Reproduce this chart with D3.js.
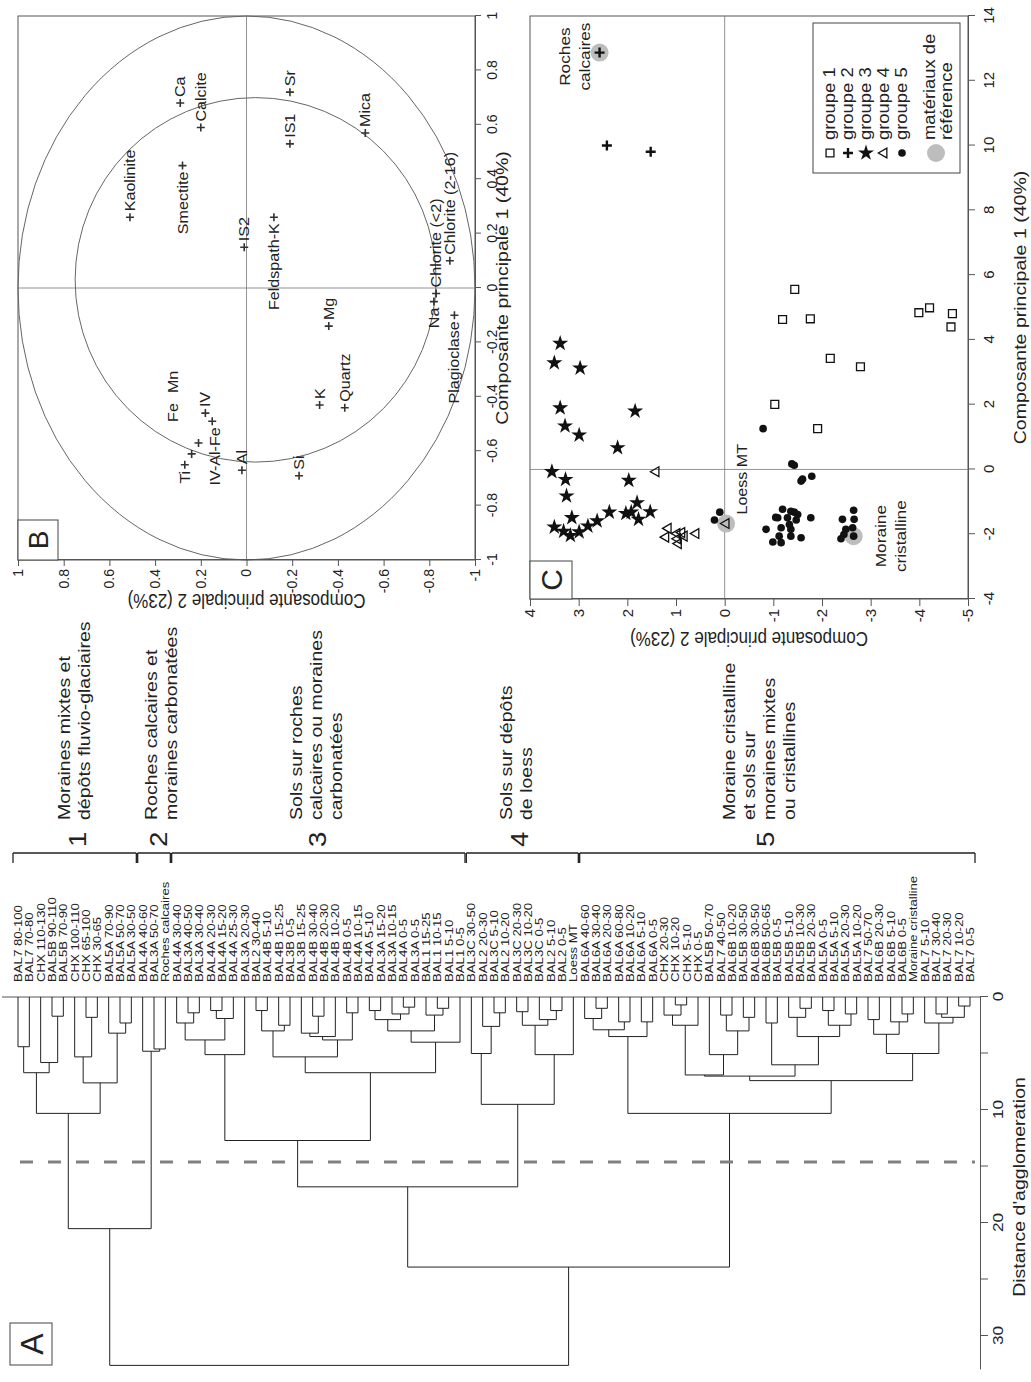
<!DOCTYPE html>
<html>
<head>
<meta charset="utf-8">
<script src="https://cdn.jsdelivr.net/npm/d3@7"></script>
<style>
  body { margin: 0; background: #fff; }
  svg { display: block; }
  text { font-family: "Liberation Sans", Arial, sans-serif; fill: #222; }
</style>
</head>
<body>
<svg id="fig" width="1031" height="1382"></svg>
<script>
// ---------- data : dendrogram (panel A) ----------
const leafLabels = [
  "BAL7 80-100","BAL7 70-80","CHX 110-130","BAL5B 90-110","BAL5B 70-90","CHX 100-110","CHX 65-100","CHX 30-65","BAL5A 70-90","BAL5A 50-70","BAL5A 30-50",
  "BAL4A 40-60","BAL3A 50-70","Roches calcaires",
  "BAL4A 30-40","BAL3A 40-50","BAL3A 30-40","BAL4A 20-30","BAL4A 15-20","BAL4A 25-30","BAL3A 20-30","BAL2 30-40","BAL4B 5-10","BAL4B 15-25","BAL3B 0-5","BAL3B 15-25","BAL4B 30-40","BAL4B 20-30","BAL4B 10-20","BAL4B 0-5","BAL4A 10-15","BAL4A 5-10","BAL3A 15-20","BAL3A 10-15","BAL4A 0-5","BAL3A 0-5","BAL1 15-25","BAL1 10-15","BAL1 5-10","BAL1 0-5",
  "BAL3C 30-50","BAL2 20-30","BAL3C 5-10","BAL2 10-20","BAL3C 20-30","BAL3C 10-20","BAL3C 0-5","BAL2 5-10","BAL2 0-5","Loess MT",
  "BAL6A 40-60","BAL6A 30-40","BAL6A 20-30","BAL6A 60-80","BAL6A 10-20","BAL6A 5-10","BAL6A 0-5","CHX 20-30","CHX 10-20","CHX 5-10","CHX 0-5","BAL5B 50-70","BAL7 40-50","BAL6B 10-20","BAL5B 30-50","BAL6B 30-50","BAL6B 50-65","BAL5B 0-5","BAL5B 5-10","BAL5B 10-30","BAL5B 20-30","BAL5A 0-5","BAL5A 5-10","BAL5A 20-30","BAL5A 10-20","BAL7 50-70","BAL6B 20-30","BAL6B 5-10","BAL6B 0-5","Moraine cristalline","BAL7 5-10","BAL7 30-40","BAL7 20-30","BAL7 10-20","BAL7 0-5"
];
const groupSizes = [11, 3, 26, 10, 35];
const groupNumbers = ["1", "2", "3", "4", "5"];
const groupText = [
  ["Moraines mixtes et", "dépôts fluvio-glaciaires"],
  ["Roches calcaires et", "moraines carbonatées"],
  ["Sols sur roches", "calcaires ou moraines", "carbonatées"],
  ["Sols sur dépôts", "de loess"],
  ["Moraine cristalline", "et sols sur", "moraines mixtes", "ou cristallines"]
];

// merges written as [distance, left, right]; a leaf is its index in leafLabels
const tree1 = [10.3, [6.7, [4.4, 0, 1], [5.8, 2, [1.7, 3, 4]]], [7.6, [5.3, 5, [1.8, 6, 7]], [3.2, 8, [2.3, 9, 10]]]];
const tree2 = [4.8, 11, [4.6, 12, 13]];
const tree3 = [12.7,
  [5.1, [3.8, [2.3, 14, [1.4, 15, 16]], [1.9, [1.2, 17, 18], 19]], 20],
  [6.7,
    [5.3, [3.0, [1.2, 21, 22], [2.5, 23, 24]], [3.8, [3.5, [3.2, 25, [1.7, 26, 27]], 28], [1.4, 29, 30]]],
    [4.0, [3.0, [2.0, [1.2, 31, 32], [1.5, 33, [0.9, 34, 35]]], [1.6, 36, [1.0, 37, 38]]], 39]]];
const tree4 = [9.5, [5.0, 40, [2.6, 41, [1.4, 42, 43]]], [5.1, [2.5, [1.3, 44, 45], [2.0, 46, [1.2, 47, 48]]], 49]];
const tree5 = [10.3,
  [3.5, [2.9, [1.9, 50, [1.0, 51, 52]], [2.2, 53, 54]], [2.2, 55, 56]],
  [7.4,
    [7.0,
      [6.9, [2.5, [1.6, 57, [0.7, 58, 59]], 60], [5.1, 61, [3.0, [1.6, 62, 63], [1.8, 64, 65]]]],
      [6.0, [2.3, 66, 67], [3.5, [1.8, 68, [1.0, 69, 70]], [2.5, [1.2, 71, 72], [1.5, 73, 74]]]]],
    [5.0, [3.3, [2.0, 75, 76], [2.2, 77, [1.5, 78, 79]]], [2.3, 80, [1.8, [1.5, 81, 82], [0.8, 83, 84]]]]]];
const dendroTree = [32.6, [20.5, tree1, tree2], [23.9, [16.8, tree3, tree4], tree5]];
const distTicks = [0, 5, 10, 15, 20, 25, 30];
const cutDistance = 14.6;

// ---------- data : loadings circle (panel B) ----------
const varNames = ["Ca","Calcite","Sr","IS1","Mica","Kaolinite","Smectite","IS2","Feldspath-K","Chlorite (<2)","Chlorite (2-16)","Na","Plagioclase","Mg","Quartz","K","Si","Al","IV-Al-Fe","IV","Fe","Mn","Ti"];
const varPC1 = [0.68, 0.59, 0.72, 0.53, 0.57, 0.26, 0.45, 0.15, 0.26, -0.02, 0.10, -0.05, -0.10, -0.14, -0.44, -0.43, -0.69, -0.67, -0.49, -0.46, -0.61, -0.57, -0.65];
const varPC2 = [0.29, 0.20, -0.19, -0.19, -0.52, 0.51, 0.28, 0.01, -0.12, -0.83, -0.89, -0.82, -0.91, -0.36, -0.43, -0.32, -0.23, 0.02, 0.15, 0.18, 0.24, 0.21, 0.27];
const bTicks = [-1, -0.8, -0.6, -0.4, -0.2, 0, 0.2, 0.4, 0.6, 0.8, 1];

// ---------- data : samples scores (panel C) ----------
const grp1PC1 = [5.56, 4.63, 4.65, 3.43, 3.17, 2.01, 1.26, 4.84, 4.99, 4.81, 4.40];
const grp1PC2 = [-1.44, -1.19, -1.76, -2.17, -2.79, -1.03, -1.91, -3.99, -4.21, -4.68, -4.65];
const grp2PC1 = [10.0, 9.81];
const grp2PC2 = [2.42, 1.52];
const grp3PC1 = [3.89, 3.29, 3.13, 1.90, 1.34, 1.06, 1.80, 0.67, -0.07, -0.31, -0.34, -0.82, -1.03, -1.32, -1.36, -1.32, -1.31, -1.54, -1.49, -1.59, -1.75, -1.93, -2.04, -1.91, -1.78];
const grp3PC2 = [3.38, 3.50, 2.97, 3.38, 3.28, 2.99, 1.84, 2.20, 3.55, 3.27, 1.97, 3.25, 1.80, 2.37, 2.03, 1.92, 1.53, 1.77, 3.14, 2.62, 2.81, 2.99, 3.17, 3.31, 3.50];
const grp4PC1 = [-0.07, -1.82, -2.09, -1.98, -1.95, -2.14, -2.06, -2.29, -1.98];
const grp4PC2 = [1.41, 1.16, 1.21, 0.98, 0.88, 0.97, 0.83, 0.95, 0.59];
const grp5PC1 = [1.26, -1.32, -1.56, 0.17, 0.13, -0.36, -0.30, -0.21, -1.85, -2.24, -1.48, -1.23, -1.29, -1.32, -1.49, -1.49, -1.56, -1.80, -1.85, -2.26, -2.06, -2.11, -1.49, -1.39, -1.70, -2.06, -1.26, -1.54, -1.54, -1.85, -2.01, -2.14, -1.80];
const grp5PC2 = [-0.79, 0.10, 0.21, -1.38, -1.43, -1.57, -1.60, -1.79, -0.85, -0.99, -1.05, -1.19, -1.36, -1.43, -1.09, -1.29, -1.47, -1.16, -1.36, -1.16, -1.36, -1.57, -1.77, -1.50, -1.33, -1.12, -2.65, -2.66, -2.42, -2.49, -2.45, -2.39, -2.63];
const refNames = [["Roches", "calcaires"], ["Loess MT"], ["Moraine", "cristalline"]];
const refGroup = [2, 4, 5];
const refPC1 = [12.87, -1.67, -2.06];
const refPC2 = [2.57, -0.03, -2.65];
const cTicksPC1 = [-4, -2, 0, 2, 4, 6, 8, 10, 12, 14];
const cTicksPC2 = [-5, -4, -3, -2, -1, 0, 1, 2, 3, 4];
const legendLabels = [["groupe 1"], ["groupe 2"], ["groupe 3"], ["groupe 4"], ["groupe 5"], ["matériaux de", "référence"]];

// ---------- drawing ----------
const W = 1031, H = 1382;
const SX = 1.15;         // the print is stretched along the reading direction
const ink = "#222";

const svg = d3.select("#fig");
svg.append("rect").attr("width", W).attr("height", H).attr("fill", "#fff");
// the whole figure is laid out upright, then turned a quarter left
const fig = svg.append("g").attr("transform", `translate(0,${H}) rotate(-90)`);

function addText(p, u, v, str, size, anchor, rot, sx) {
  return p.append("text")
    .attr("transform", `translate(${u},${v}) scale(${sx || SX},1)` + (rot ? ` rotate(${rot})` : ""))
    .attr("font-size", size)
    .attr("text-anchor", anchor || "start")
    .text(str);
}
function seg(p, u1, v1, u2, v2, color, w) {
  return p.append("line").attr("x1", u1).attr("y1", v1).attr("x2", u2).attr("y2", v2)
    .attr("stroke", color || ink).attr("stroke-width", w || 1);
}
function letterBox(p, u, v, w, h, letter, size) {
  p.append("rect").attr("x", u).attr("y", v).attr("width", w).attr("height", h)
    .attr("fill", "#fff").attr("stroke", "#444").attr("stroke-width", 1);
  addText(p, u + w / 2, v + h / 2 + size * 0.36, letter, size, "middle", 0, 1);
}
function styleAxis(ax, size) {
  ax.select(".domain").attr("stroke", "#555");
  ax.selectAll(".tick line").attr("stroke", "#555");
  ax.selectAll(".tick text").attr("font-size", size).attr("fill", ink)
    .attr("font-family", '"Liberation Sans", Arial, sans-serif');
}

// ===== Panel A : dendrogram =====
const gA = fig.append("g");
const leafV = d3.scalePoint().domain(d3.range(leafLabels.length)).range([18, 970]);
const distU = d3.scaleLinear().domain([0, 33]).range([385, 385 - 33 * 11.3]);

const root = d3.hierarchy(dendroTree, d => Array.isArray(d) ? d.slice(1) : null);
root.eachAfter(n => {
  if (n.children) {
    n.h = n.data[0];
    n.v = (n.children[0].v + n.children[1].v) / 2;
  } else {
    n.h = 0;
    n.v = leafV(n.data);
  }
});

// zero line
seg(gA, distU(0), 2, distU(0), 980, "#555", 1);

root.each(n => {
  if (!n.children) return;
  const u = distU(n.h);
  seg(gA, u, n.children[0].v, u, n.children[1].v);
  n.children.forEach(c => seg(gA, distU(c.h), c.v, u, c.v));
});

// cut line
gA.append("line")
  .attr("x1", distU(cutDistance)).attr("x2", distU(cutDistance))
  .attr("y1", 20).attr("y2", 975)
  .attr("stroke", "#808080").attr("stroke-width", 3).attr("stroke-dasharray", "13,15");

// leaf labels
leafLabels.forEach((lab, i) => addText(gA, 400, leafV(i) + 4, lab, 11, "start", 0, 1.2));

// distance axis
const distAxis = gA.append("g").attr("transform", "translate(0,980)")
  .call(d3.axisBottom(distU).tickValues(distTicks).tickSize(8).tickSizeOuter(0)
    .tickFormat(d => d % 10 === 0 ? String(d) : ""));
styleAxis(distAxis, 15);
distAxis.selectAll(".tick text").attr("y", 12).attr("transform", `scale(${SX},1)`);
addText(gA, 195, 1025, "Distance d'agglomeration", 17, "middle");

letterBox(gA, 17, 10, 42, 42, "A", 32);

// group brackets and titles
const groupLineV = [70, 157, 302, 512, 735];   // baseline of the first title line
const groupNumV = [86, 167, 326, 528, 774];
let start = 0;
groupSizes.forEach((n, gi) => {
  const v0 = leafV(start) - 5, v1 = leafV(start + n - 1) + 5;
  const bu = 529;
  seg(gA, bu, v0, bu, v1, ink, 1.3);
  seg(gA, bu - 10, v0, bu, v0, ink, 1.3);
  seg(gA, bu - 10, v1, bu, v1, ink, 1.3);
  groupText[gi].forEach((t, k) => addText(gA, 562, groupLineV[gi] + k * 20, t, 17, "start"));
  addText(gA, 535, groupNumV[gi], groupNumbers[gi], 24, "start");
  start += n;
});

// ===== Panel B : correlation circle =====
const gB = fig.append("g");
const bX = d3.scaleLinear().domain([-1, 1]).range([822, 1366]);
const bY = d3.scaleLinear().domain([-1, 1]).range([475, 18]);
gB.append("rect").attr("x", bX(-1)).attr("y", bY(1)).attr("width", bX(1) - bX(-1)).attr("height", bY(-1) - bY(1))
  .attr("fill", "none").attr("stroke", "#555");
seg(gB, bX(0), bY(1), bX(0), bY(-1), "#777", 0.8);
seg(gB, bX(-1), bY(0), bX(1), bY(0), "#777", 0.8);
// unit circle and inner reference circle
gB.append("ellipse").attr("cx", bX(0)).attr("cy", bY(0))
  .attr("rx", bX(1) - bX(0)).attr("ry", bY(0) - bY(1))
  .attr("fill", "none").attr("stroke", "#666");
gB.append("ellipse").attr("cx", bX(0.03)).attr("cy", bY(-0.04))
  .attr("rx", bX(0.67) - bX(0)).attr("ry", bY(0) - bY(0.79))
  .attr("fill", "none").attr("stroke", "#666");

const fmt = d => String(+d.toFixed(1));
const bAxX = gB.append("g").attr("transform", `translate(0,${bY(-1)})`)
  .call(d3.axisBottom(bX).tickValues(bTicks).tickSize(6).tickPadding(6).tickFormat(fmt));
const bAxY = gB.append("g").attr("transform", `translate(${bX(-1)},0)`)
  .call(d3.axisLeft(bY).tickValues(bTicks).tickSize(6).tickFormat(fmt));
styleAxis(bAxX, 14);
styleAxis(bAxY, 14);
addText(gB, bX(0), 508, "Composante principale 1 (40%)", 17, "middle");
addText(gB, 788, bY(0), "Composante principale 2 (23%)", 17, "middle", -90);
letterBox(gB, bX(-1), bY(1), 40, 40, "B", 28);

// label placement: [dx, dy, anchor]
const varLabelPos = {
  "Smectite": [-6, 5, "end"], "Feldspath-K": [-6, 5, "end"], "Plagioclase": [-6, 5, "end"], "Na": [-6, 5, "end"],
  "IV-Al-Fe": [-6, 8, "end"], "Ti": [-6, 5, "end"], "Fe": [32, -14, "start"], "Mn": [50, -21, "start"]
};
varNames.forEach((name, i) => {
  const u = bX(varPC1[i]), v = bY(varPC2[i]);
  gB.append("path").attr("d", `M${u - 4},${v}H${u + 4}M${u},${v - 4}V${v + 4}`)
    .attr("stroke", "#333").attr("stroke-width", 1.6);
  const [dx, dy, anchor] = varLabelPos[name] || [6, 5, "start"];
  addText(gB, u + dx, v + dy, name, 14, anchor);
});

// ===== Panel C : sample scores =====
const gC = fig.append("g");
const cX = d3.scaleLinear().domain([-4, 14]).range([783, 1366]);
const cY = d3.scaleLinear().domain([-5, 4]).range([968, 530]);
gC.append("rect").attr("x", cX(-4)).attr("y", cY(4)).attr("width", cX(14) - cX(-4)).attr("height", cY(-5) - cY(4))
  .attr("fill", "none").attr("stroke", "#555");
seg(gC, cX(0), cY(4), cX(0), cY(-5), "#777", 0.8);
seg(gC, cX(-4), cY(0), cX(14), cY(0), "#777", 0.8);

const cAxX = gC.append("g").attr("transform", `translate(0,${cY(-5)})`)
  .call(d3.axisBottom(cX).tickValues(cTicksPC1).tickSize(7).tickPadding(8).tickFormat(d => String(d)));
const cAxY = gC.append("g").attr("transform", `translate(${cX(-4)},0)`)
  .call(d3.axisLeft(cY).tickValues(cTicksPC2).tickSize(7).tickFormat(d => String(d)));
styleAxis(cAxX, 15);
styleAxis(cAxY, 15);
addText(gC, (cX(-4) + cX(14)) / 2, 1026, "Composante principale 1 (40%)", 17, "middle");
addText(gC, 750, (cY(4) + cY(-5)) / 2, "Composante principale 2 (23%)", 17, "middle", -90);
letterBox(gC, cX(-4), cY(4), 38, 42, "C", 30);

const symGen = {
  1: d3.symbol(d3.symbolSquare, 62),
  3: d3.symbol(d3.symbolStar, 80),
  4: d3.symbol(d3.symbolTriangle, 42),
  5: d3.symbol(d3.symbolCircle, 46)
};
function marker(p, grp, u, v) {
  if (grp === 2) {
    p.append("path").attr("d", `M${u - 5},${v}H${u + 5}M${u},${v - 5}V${v + 5}`)
      .attr("stroke", "#111").attr("stroke-width", 2.4);
    return;
  }
  const open = grp === 1 || grp === 4;
  p.append("path").attr("transform", `translate(${u},${v})` + (grp === 3 ? " rotate(90)" : ""))
    .attr("d", symGen[grp]())
    .attr("fill", open ? "none" : "#111")
    .attr("stroke", open ? "#111" : "none").attr("stroke-width", 1.3);
}

// reference materials (grey disc under the marker)
refNames.forEach((nm, i) => {
  gC.append("circle").attr("cx", cX(refPC1[i])).attr("cy", cY(refPC2[i])).attr("r", 9).attr("fill", "#bdbdbd");
});
const groupsPC = [[grp1PC1, grp1PC2], [grp2PC1, grp2PC2], [grp3PC1, grp3PC2], [grp4PC1, grp4PC2], [grp5PC1, grp5PC2]];
groupsPC.forEach(([a, b], gi) => a.forEach((x, k) => marker(gC, gi + 1, cX(x), cY(b[k]))));
refNames.forEach((nm, i) => marker(gC, refGroup[i], cX(refPC1[i]), cY(refPC2[i])));

// reference labels
addText(gC, cX(refPC1[0]) - 4, 570, refNames[0][0], 15, "middle");
addText(gC, cX(refPC1[0]) - 4, 590, refNames[0][1], 15, "middle");
addText(gC, cX(refPC1[1]) + 9, 747, refNames[1][0], 14, "start");
addText(gC, cX(refPC1[2]), 886, refNames[2][0], 15, "middle");
addText(gC, cX(refPC1[2]), 906, refNames[2][1], 15, "middle");

// legend
const lg = gC.append("g");
lg.append("rect").attr("x", 1209).attr("y", 813).attr("width", 150).attr("height", 147)
  .attr("fill", "#fff").attr("stroke", "#444");
const legendV = [830, 848, 866, 884, 902];
legendV.forEach((v, k) => {
  marker(lg, k + 1, 1229, v);
  addText(lg, 1242, v + 5, legendLabels[k][0], 16, "start");
});
lg.append("circle").attr("cx", 1229).attr("cy", 936).attr("r", 9).attr("fill", "#bdbdbd");
addText(lg, 1242, 935, legendLabels[5][0], 16, "start");
addText(lg, 1242, 952, legendLabels[5][1], 16, "start");
</script>
</body>
</html>
